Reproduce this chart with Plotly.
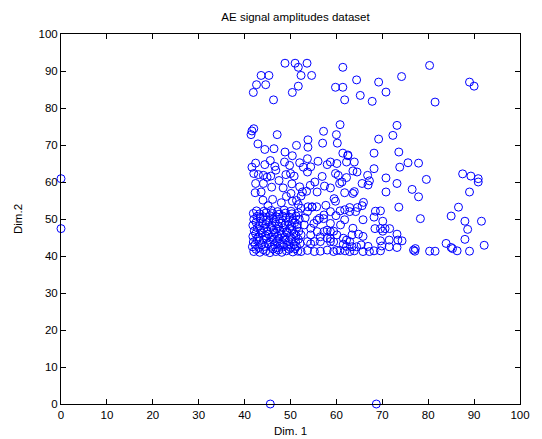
import plotly.graph_objects as go

# ---- data ----
outlier_pts = [(0.0, 60.9), (0.0, 47.4), (45.6, 0.0), (68.7, 0.0)]

top_pts = [(48.8, 92.1), (51.0, 92.1), (53.6, 92.1), (51.7, 91.0), (52.3, 88.8), (54.6, 88.8),
           (43.6, 88.8), (45.3, 88.8), (42.6, 86.3), (44.6, 86.3), (41.9, 84.2), (46.3, 82.2),
           (50.4, 84.2), (51.7, 85.9), (61.4, 91.0), (59.8, 85.6), (61.4, 85.6), (61.8, 82.2),
           (64.4, 87.6), (65.2, 83.4), (67.8, 81.8), (69.2, 87.0), (70.8, 84.3), (74.2, 88.5),
           (80.3, 91.5), (81.5, 81.6), (89.0, 87.0), (90.0, 85.9)]

upper_pts = [(42.0, 74.4), (41.6, 73.8), (41.4, 72.8), (47.1, 72.8), (42.9, 70.3), (44.4, 68.8),
             (46.4, 69.0), (48.8, 68.1), (50.4, 67.1), (51.3, 69.9), (53.8, 71.4), (53.8, 69.4),
             (57.2, 73.7), (57.0, 70.5), (60.0, 72.8), (60.2, 70.5), (60.8, 75.5), (61.4, 67.8),
             (62.5, 67.1), (68.2, 67.8), (69.2, 71.6), (72.3, 72.6), (73.2, 75.3), (73.6, 68.1),
             (53.7, 66.3)]

mid_pts = [(41.6, 64.0), (42.4, 65.1), (44.4, 64.7), (45.6, 65.8), (46.6, 64.2), (48.7, 65.4),
           (49.8, 64.5), (52.0, 65.2), (52.8, 64.0), (54.4, 64.1), (56.0, 65.6), (58.0, 64.7),
           (58.7, 65.4), (60.1, 65.0), (42.0, 62.3), (43.0, 62.0), (44.1, 61.8), (44.9, 61.3),
           (45.7, 61.6), (49.0, 62.0), (50.0, 62.3), (50.8, 61.6), (53.7, 62.7), (59.8, 62.3),
           (60.4, 61.8), (42.4, 59.6), (44.1, 59.6), (45.9, 58.6), (48.4, 58.4), (50.3, 59.5),
           (52.0, 58.7), (52.6, 57.3), (53.5, 57.5), (54.3, 59.1), (55.3, 60.0), (55.8, 57.3),
           (58.7, 58.4), (60.7, 59.6), (42.3, 57.1), (43.6, 57.3), (44.0, 55.1), (46.1, 55.3),
           (50.1, 56.9), (52.3, 56.2), (48.0, 54.4), (50.4, 54.8), (51.3, 55.0), (51.7, 53.9),
           (53.8, 53.3), (54.7, 53.2), (55.7, 53.3), (57.7, 53.7), (59.5, 55.5), (59.8, 54.8),
           (46.8, 63.2), (47.5, 60.4), (56.9, 61.5), (57.4, 58.9), (49.1, 56.1), (45.1, 53.6)]

midright_pts = [(62.2, 65.4), (63.9, 65.4), (63.6, 63.0), (62.2, 61.2), (61.2, 60.0), (66.8, 61.8),
                (65.6, 59.6), (67.2, 60.3), (66.9, 59.2), (61.8, 57.1), (63.9, 57.4), (63.6, 56.9),
                (65.9, 54.5), (62.9, 53.1), (64.5, 62.7), (62.5, 67.3)]

dense_pts = [(42.0, 41.2), (43.3, 41.0), (44.6, 41.3), (45.5, 40.9), (46.8, 41.2), (48.1, 41.0),
             (49.1, 41.4), (50.5, 41.1), (51.6, 41.3),
             (42.5, 41.8), (44.1, 41.7), (46.2, 41.9), (47.4, 41.6), (49.7, 41.8), (51.0, 42.0),
             (41.7, 42.5), (43.1, 42.3), (44.4, 42.6), (45.8, 42.4), (47.2, 42.2), (48.5, 42.5),
             (50.0, 42.3), (51.3, 42.6),
             (42.3, 43.1), (43.7, 43.0), (45.1, 43.3), (46.5, 43.0), (47.8, 43.2), (49.2, 42.9),
             (50.7, 43.1), (52.1, 43.4),
             (41.9, 43.8), (43.2, 44.0), (45.6, 43.7), (47.0, 43.9), (48.3, 43.6), (49.6, 43.9),
             (51.1, 43.8),
             (42.7, 44.6), (44.1, 44.4), (44.8, 44.8), (46.2, 44.5), (47.5, 44.7), (48.9, 44.4),
             (50.3, 44.6), (51.7, 44.5),
             (41.8, 45.3), (43.1, 45.2), (44.5, 45.5), (45.9, 45.2), (47.2, 45.4), (48.7, 45.1),
             (49.9, 45.3), (51.2, 45.5),
             (42.4, 46.0), (43.8, 46.2), (45.2, 45.9), (46.6, 46.1), (48.0, 45.9), (49.3, 46.2),
             (50.8, 46.0),
             (42.1, 46.8), (43.5, 46.9), (44.9, 46.7), (46.3, 47.0), (47.7, 46.8), (49.1, 46.6),
             (50.4, 46.9), (51.8, 46.7),
             (42.8, 47.6), (44.2, 47.5), (45.7, 47.7), (47.0, 47.4), (48.4, 47.6), (49.8, 47.5),
             (51.4, 47.8),
             (41.8, 48.3), (43.2, 48.2), (44.6, 48.5), (46.0, 48.3), (47.4, 48.1), (48.8, 48.4),
             (50.2, 48.2), (51.5, 48.5),
             (42.5, 49.1), (43.9, 49.0), (45.3, 49.3), (46.7, 49.1), (48.1, 48.9), (49.5, 49.2),
             (50.9, 49.0),
             (42.0, 49.9), (43.4, 50.1), (44.8, 49.8), (46.2, 50.0), (47.6, 49.9), (49.0, 50.2),
             (50.5, 49.8), (51.9, 50.0),
             (42.7, 50.7), (44.1, 50.6), (45.5, 50.9), (46.9, 50.6), (48.3, 50.8), (49.8, 50.5),
             (51.2, 50.8),
             (41.9, 51.5), (43.3, 51.4), (44.7, 51.7), (46.1, 51.5), (47.5, 51.3), (48.9, 51.6),
             (50.3, 51.4), (51.7, 51.7),
             (42.6, 52.2), (44.2, 52.1), (45.8, 52.3), (47.2, 52.0), (48.6, 52.4), (50.1, 52.1)]

lowmid_pts = [(52.3, 52.9), (53.7, 52.0), (54.7, 53.3), (56.3, 50.2), (57.3, 51.1), (58.7, 52.0),
              (53.0, 48.4), (54.4, 47.5), (55.8, 46.6), (57.3, 46.6), (58.7, 46.6), (60.1, 45.7),
              (58.0, 44.8), (53.7, 43.9), (55.2, 43.9), (56.5, 43.9), (58.7, 43.9), (52.3, 41.2),
              (53.7, 41.5), (55.2, 41.2), (56.5, 41.3), (58.0, 41.6), (59.4, 41.2), (54.4, 45.7),
              (52.3, 45.7), (54.4, 43.3), (55.1, 48.8), (55.8, 49.7), (57.2, 50.1), (58.7, 48.8),
              (59.4, 46.7), (58.0, 47.0), (56.5, 45.2), (58.7, 44.7), (59.4, 43.8), (60.1, 41.5),
              (53.2, 50.3), (59.9, 50.9)]

lowright_pts = [(60.8, 52.2), (61.8, 52.5), (62.9, 52.0), (64.2, 52.0), (64.6, 53.1), (65.6, 53.6),
                (65.8, 49.8), (61.8, 49.8), (60.9, 48.4), (63.6, 47.5), (63.4, 45.7), (64.8, 45.9),
                (65.8, 45.3), (61.5, 44.8), (62.2, 44.3), (62.9, 43.9), (61.5, 43.2), (62.2, 42.6),
                (63.4, 42.5), (64.4, 42.5), (65.4, 43.0), (66.9, 42.6), (60.8, 41.5), (61.9, 41.4),
                (62.9, 41.2), (63.9, 41.4), (65.8, 41.2), (67.2, 41.2)]

right_pts = [(68.2, 63.6), (70.8, 61.1), (70.8, 57.3), (73.2, 59.6), (73.8, 64.0), (75.6, 65.2),
             (77.9, 65.1), (76.5, 58.0), (77.9, 56.0), (79.6, 60.7), (87.5, 62.2), (89.3, 61.6),
             (90.9, 60.9), (90.9, 60.0), (89.0, 57.3), (73.6, 53.2), (68.5, 52.1), (69.6, 52.2),
             (68.2, 50.5), (70.1, 49.4), (78.3, 50.1), (85.0, 50.8), (86.6, 53.2), (88.0, 49.4),
             (88.6, 47.2), (91.6, 49.4), (68.4, 47.4), (69.6, 47.4), (70.6, 47.4), (71.6, 47.4),
             (70.1, 46.7), (73.2, 45.9), (69.6, 44.1), (71.5, 44.3), (73.4, 44.3), (74.3, 44.1),
             (69.9, 42.7), (71.5, 42.5), (73.2, 42.3), (68.2, 41.4), (69.6, 41.4), (76.8, 41.6),
             (77.2, 42.0), (77.1, 41.3), (80.3, 41.3), (81.5, 41.3), (83.9, 43.4), (85.0, 42.3),
             (85.3, 42.0), (86.3, 41.4), (88.0, 44.5), (89.0, 41.3), (92.2, 42.9)]

groups = [outlier_pts, top_pts, upper_pts, mid_pts, midright_pts, dense_pts,
          lowmid_pts, lowright_pts, right_pts]
xs = [p[0] for g in groups for p in g]
ys = [p[1] for g in groups for p in g]

x_ticks = list(range(0, 101, 10))
y_ticks = list(range(0, 101, 10))

# The page has an 8px body margin, so the figure starts at (8, 8) of the window.
OFF = 8
W, H = 542 - OFF, 439 - OFF
L, R, T, B = 61 - OFF, 12, 34 - OFF, 35
font = "Liberation Sans, Arial, sans-serif"

fig = go.Figure(go.Scatter(
    x=xs, y=ys, mode="markers", cliponaxis=False,
    marker=dict(symbol="circle-open", size=8, color="#0000ff", line=dict(width=1, color="#0000ff")),
    hoverinfo="x+y"))

axis_common = dict(range=[0, 100], showgrid=False, zeroline=False, showline=True,
                   linecolor="black", linewidth=1, mirror="ticks", ticks="inside",
                   ticklen=5, tickcolor="black", tickwidth=1,
                   tickfont=dict(family=font, size=11.5, color="black"))
fig.update_xaxes(tickvals=x_ticks, **axis_common)
fig.update_yaxes(tickvals=y_ticks, **axis_common)

fig.update_layout(
    width=W, height=H, margin=dict(l=L, r=R, t=T, b=B, pad=0),
    paper_bgcolor="white", plot_bgcolor="white", showlegend=False,
    font=dict(family=font, size=11.5, color="black"),
    title=dict(text="AE signal amplitudes dataset", x=(L + (W - R)) / 2 / W, xanchor="center",
               y=1 - (17 - OFF) / H, yanchor="middle", yref="container",
               font=dict(family=font, size=11.5, color="black")),
    annotations=[
        dict(text="Dim. 1", xref="paper", yref="paper", x=0.5, y=0, xanchor="center",
             yanchor="middle", yshift=-27, showarrow=False, font=dict(family=font, size=11.5)),
        dict(text="Dim.2", xref="paper", yref="paper", x=0, y=0.5, xanchor="center",
             yanchor="middle", xshift=-43, textangle=-90, showarrow=False,
             font=dict(family=font, size=11.5)),
    ],
)

fig.write_html("out.html")
